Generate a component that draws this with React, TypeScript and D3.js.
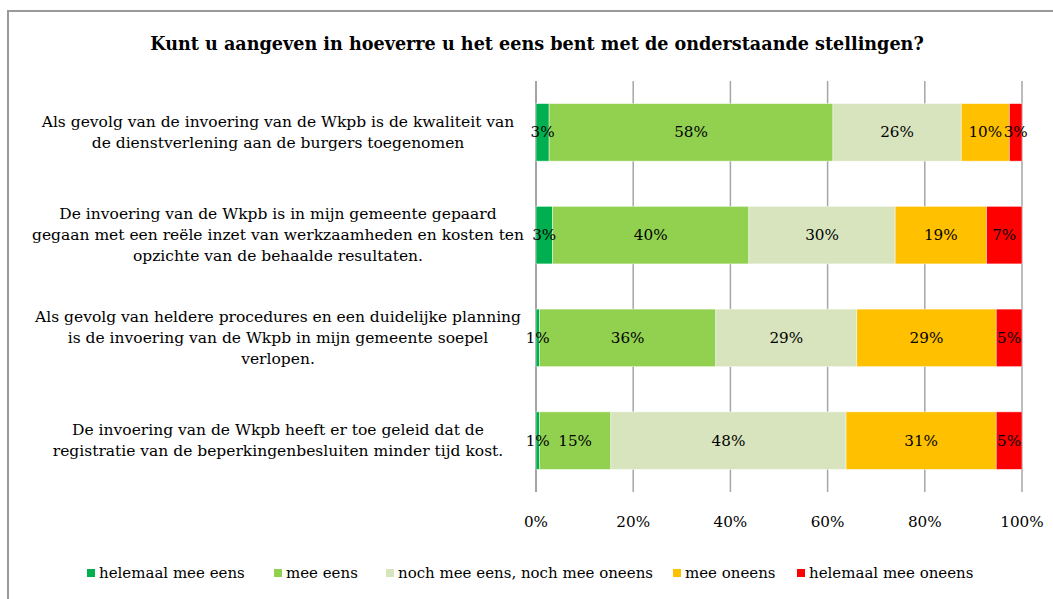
import React from "react";
import * as d3 from "d3";

const title = "Kunt u aangeven in hoeverre u het eens bent met de onderstaande stellingen?";

const categories: string[][] = [
  ["Als gevolg van de invoering van de Wkpb is de kwaliteit van", "de dienstverlening aan de burgers toegenomen"],
  ["De invoering van de Wkpb is in mijn gemeente gepaard", "gegaan met een reële inzet van werkzaamheden en kosten ten", "opzichte van de behaalde resultaten."],
  ["Als gevolg van heldere procedures en een duidelijke planning", "is de invoering van de Wkpb in mijn gemeente soepel", "verlopen."],
  ["De invoering van de Wkpb heeft er toe geleid dat de", "registratie van de beperkingenbesluiten minder tijd kost."],
];

const seriesNames = ["helemaal mee eens", "mee eens", "noch mee eens, noch mee oneens", "mee oneens", "helemaal mee oneens"];
const seriesColors = ["#00B050", "#92D050", "#D7E4BD", "#FFC000", "#FF0000"];

const helemaalMeeEens = [2.7, 3.4, 0.7, 0.7];
const meeEens = [58.4, 40.4, 36.3, 14.7];
const noch = [26.4, 30.1, 29.0, 48.4];
const meeOneens = [9.9, 18.8, 28.7, 30.9];
const helemaalMeeOneens = [2.6, 7.3, 5.3, 5.3];

const tickValues = [0, 20, 40, 60, 80, 100];

const FONT = "'DejaVu Serif', serif";

export default function App() {
  const series = [helemaalMeeEens, meeEens, noch, meeOneens, helemaalMeeOneens];
  const x = d3.scaleLinear().domain([0, 100]).range([536, 1022]);
  const y = d3
    .scaleBand<number>()
    .domain(categories.map((_, i) => i))
    .range([81, 492])
    .paddingInner(0.44)
    .paddingOuter(0.22);

  const rows = categories.map((_, i) => {
    let acc = 0;
    return series.map((s, k) => {
      const v = s[i];
      const seg = { k, x0: acc, x1: acc + v, v };
      acc += v;
      return seg;
    });
  });

  const legendX = [87, 274, 386, 673, 797];
  const lineH = 21;

  return (
    <svg
      width={1053}
      height={599}
      style={{ position: "absolute", left: 0, top: 0, background: "#fff" }}
      fontFamily={FONT}
    >
      <rect x={8} y={11} width={1060} height={600} fill="#fff" stroke="#999" strokeWidth={2} />
      <text x={537} y={50} textAnchor="middle" fontWeight="bold" fontSize={17.6} fill="#000">
        {title}
      </text>

      {tickValues.map((t) => (
        <line
          key={t}
          x1={x(t)}
          x2={x(t)}
          y1={81}
          y2={492}
          stroke={t === 0 ? "#868686" : "#a6a6a6"}
          strokeWidth={1.5}
        />
      ))}

      {rows.map((row, i) => (
        <g key={i}>
          {row.map((seg) => (
            <rect
              key={seg.k}
              x={x(seg.x0)}
              y={y(i)!}
              width={x(seg.x1) - x(seg.x0)}
              height={y.bandwidth()}
              fill={seriesColors[seg.k]}
              stroke="#fff"
              strokeOpacity={0.6}
              strokeWidth={0.75}
            />
          ))}
          {row.map((seg) => (
            <text
              key={"t" + seg.k}
              x={(x(seg.x0) + x(seg.x1)) / 2}
              y={y(i)! + y.bandwidth() / 2 + 5}
              textAnchor="middle"
              fontSize={15.2}
              fill="#000"
            >
              {Math.round(seg.v) + "%"}
            </text>
          ))}
          {categories[i].map((line, j) => (
            <text
              key={"c" + j}
              x={278}
              y={y(i)! + y.bandwidth() / 2 + 5 + (j - (categories[i].length - 1) / 2) * lineH}
              textAnchor="middle"
              fontSize={15.5}
              fill="#000"
            >
              {line}
            </text>
          ))}
        </g>
      ))}

      {tickValues.map((t) => (
        <text key={"tl" + t} x={x(t)} y={527} textAnchor="middle" fontSize={15.2} fill="#000">
          {t + "%"}
        </text>
      ))}

      {seriesNames.map((name, k) => (
        <g key={name}>
          <rect x={legendX[k]} y={569} width={8} height={8} fill={seriesColors[k]} />
          <text x={legendX[k] + 12} y={578} fontSize={15} fill="#000">
            {name}
          </text>
        </g>
      ))}
    </svg>
  );
}
